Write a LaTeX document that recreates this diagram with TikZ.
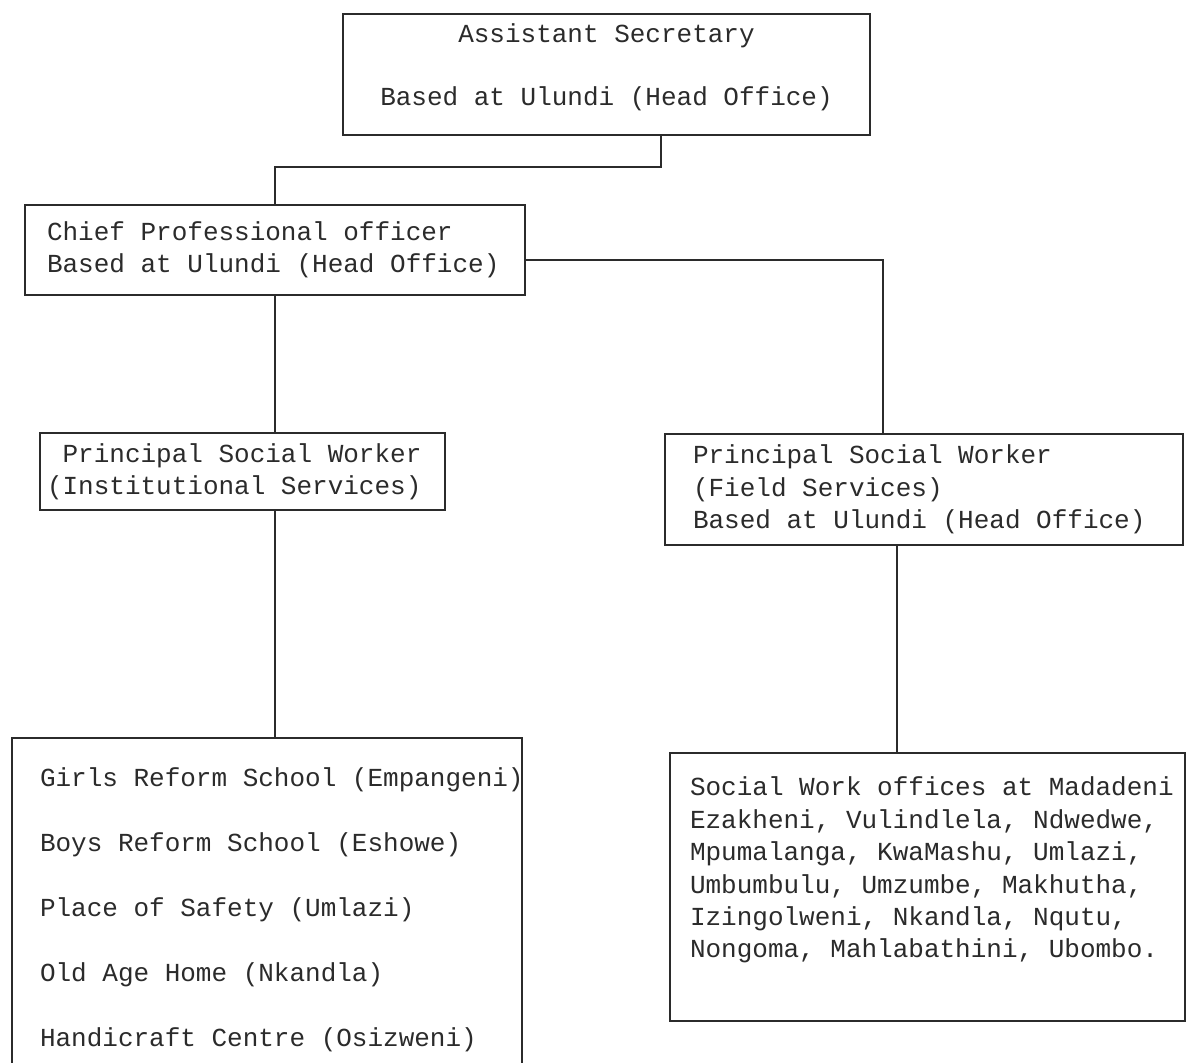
\documentclass[tikz,border=0pt]{standalone}
\usepackage{fontspec}
\setmonofont{Liberation Mono}[WordSpace={1,0,0}]
\definecolor{ink}{HTML}{2B2B2B}
\newcommand{\typed}{\ttfamily\fontsize{13}{16.2}\selectfont}
\hfuzz=100pt

\tikzset{
  card/.style={draw=ink, line width=1pt, text=ink, font=\typed, inner ysep=0pt},
  link/.style={draw=ink, line width=1pt},
}

\begin{document}
\begin{tikzpicture}[x=0.5pt, y=-0.5pt]
      \useasboundingbox (0, 0) rectangle (1201, 1063);
      \clip (0, 0) rectangle (1201, 1063);
      \fill[white] (0, 0) rectangle (1201, 1063);

      % head office
      \node[card, align=flush center, text width=263.5pt, inner xsep=0pt, text height=14.5pt, text depth=46pt, anchor=north] (asst) at (606.5, 13)
        {Assistant Secretary\\[15.3pt]Based at Ulundi (Head Office)};
      \node[card, align=flush left, text width=228pt, inner xsep=11pt, minimum height=45pt] (chief) at (275, 250)
        {Chief Professional officer\\Based at Ulundi (Head Office)};

      % principal social workers
      \node[card, align=flush left, text width=195.5pt, inner xsep=3.5pt, minimum height=38.5pt] (inst) at (242.5, 471.5)
        {\hspace*{.6em}Principal Social Worker\\(Institutional Services)};
      \node[card, align=flush left, text width=231pt, inner xsep=14pt, minimum height=55.5pt] (field) at (924, 489.5)
        {Principal Social Worker\\(Field Services)\\Based at Ulundi (Head Office)};

      % institutions and offices
      \node[card, align=flush left, text width=227pt, inner xsep=14pt, minimum height=172pt] (homes) at (267, 910)
        {\mbox{Girls Reform School (Empangeni)}\\[16.3pt]Boys Reform School (Eshowe)\\[16.3pt]Place of Safety (Umlazi)\\[16.3pt]Old Age Home (Nkandla)\\[16.3pt]Handicraft Centre (Osizweni)};
      \node[card, align=flush left, text width=237.5pt, inner xsep=10pt, text height=21.5pt, text depth=112.5pt, anchor=north] (offices) at (927.5, 752)
        {\mbox{Social Work offices at Madadeni}\\Ezakheni, Vulindlela, Ndwedwe,\\Mpumalanga, KwaMashu, Umlazi,\\Umbumbulu, Umzumbe, Makhutha,\\Izingolweni, Nkandla, Nqutu,\\Nongoma, Mahlabathini, Ubombo.};

      \draw[link] ([xshift=27.25pt]asst.south) -- ++(0, 31) -| (chief.north);
      \draw[link] ([yshift=-5pt]chief.east) -| ([xshift=-20.5pt]field.north);
      \draw[link] (chief.south) -- (inst.north -| chief.south);
      \draw[link] (inst.south -| chief.south) -- (homes.north -| chief.south);
      \draw[link] ([xshift=-13.5pt]field.south) -- ([xshift=-13.5pt]field.south |- offices.north);
    \end{tikzpicture}
\end{document}
